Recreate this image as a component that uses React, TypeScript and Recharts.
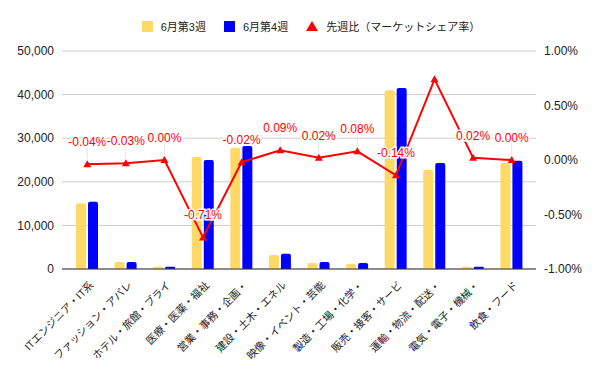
import React from 'react';
import { ComposedChart, Bar, Line, XAxis, YAxis, CartesianGrid } from 'recharts';

const categories = [
  'ITエンジニア・IT系',
  'ファッション・アパレ',
  'ホテル・旅館・ブライ',
  '医療・医薬・福祉',
  '営業・事務・企画・',
  '建設・土木・エネル',
  '映像・イベント・芸能',
  '製造・工場・化学・',
  '販売・接客・サービ',
  '運輸・物流・配送・',
  '電気・電子・機械・',
  '飲食・フード',
];

const week3 = [15100, 1600, 500, 25700, 27800, 3200, 1400, 1200, 41000, 22700, 500, 24300];
const week4 = [15400, 1600, 500, 25000, 28200, 3500, 1600, 1400, 41500, 24300, 500, 24800];
const shareDiff = [-0.04, -0.03, 0.0, -0.71, -0.02, 0.09, 0.02, 0.08, -0.14, 0.74, 0.02, 0.0];
// the reference leaves this point without a label
const hiddenLabels = [9];

const leftTicks = [0, 10000, 20000, 30000, 40000, 50000];
const rightTicks = [-1, -0.5, 0, 0.5, 1];

const data = categories.map((name, i) => ({
  name,
  week3: week3[i],
  week4: week4[i],
  diff: shareDiff[i],
}));

const YELLOW = '#FFD966';
const BLUE = '#0000FF';
const RED = '#FF0000';
const FONT = 'Arial, "Liberation Sans", "Noto Sans CJK JP", sans-serif';

const XTick = (props: any) => {
  const { x, y, payload } = props;
  return (
    <g transform={`translate(${x + 4},${y + 6})`}>
      <text transform="rotate(-45)" textAnchor="end" fontSize={10.5} fill="#222" fontFamily={FONT} dy={4}>
        {payload.value}
      </text>
    </g>
  );
};

const Triangle = (props: any) => {
  const { cx, cy } = props;
  if (cx == null || cy == null) return null;
  return <path d={`M${cx},${cy - 4} L${cx + 4},${cy + 3} L${cx - 4},${cy + 3} Z`} fill={RED} />;
};

const DiffLabel = (props: any) => {
  const { x, y, value, index } = props;
  if (hiddenLabels.includes(index)) return null;
  return (
    <g>
      <line x1={x} x2={x} y1={y - 5} y2={y - 17} stroke="#e6e6e6" strokeWidth={1} />
      <text
        x={x}
        y={y - 18}
        textAnchor="middle"
        fontSize={12}
        fill={RED}
        fontFamily={FONT}
        stroke="#fff"
        strokeWidth={3}
        paintOrder="stroke"
      >
        {`${Number(value).toFixed(2)}%`}
      </text>
    </g>
  );
};

const LegendBox = () => (
  <div
    style={{
      position: 'absolute',
      top: 18,
      left: 0,
      width: 600,
      display: 'flex',
      justifyContent: 'center',
      gap: 18,
      fontFamily: FONT,
      fontSize: 11,
      color: '#222',
    }}
  >
    <span style={{ display: 'flex', alignItems: 'center', gap: 8, marginLeft: 22 }}>
      <span style={{ width: 11, height: 11, background: YELLOW, display: 'inline-block' }} />
      6月第3週
    </span>
    <span style={{ display: 'flex', alignItems: 'center', gap: 8 }}>
      <span style={{ width: 11, height: 11, background: BLUE, display: 'inline-block' }} />
      6月第4週
    </span>
    <span style={{ display: 'flex', alignItems: 'center', gap: 8 }}>
      <svg width={12} height={11}>
        <path d="M6,0 L12,10 L0,10 Z" fill={RED} />
      </svg>
      先週比（マーケットシェア率）
    </span>
  </div>
);

const App: React.FC = () => {
  return (
    <div style={{ position: 'absolute', top: 0, left: 0, width: 600, height: 371, background: '#fff' }}>
      <ComposedChart
        width={600}
        height={371}
        data={data}
        margin={{ top: 51, right: 0, left: 0, bottom: 0 }}
        barSize={10}
        barGap={2}
      >
        <CartesianGrid vertical={false} stroke="#cccccc" yAxisId="left" />
        <XAxis
          dataKey="name"
          interval={0}
          height={102}
          tick={<XTick />}
          tickLine={false}
          axisLine={{ stroke: '#333' }}
          padding={{ left: 6, right: 5 }}
        />
        <YAxis
          yAxisId="left"
          width={62}
          domain={[0, 50000]}
          ticks={leftTicks}
          tickFormatter={(v: number) => v.toLocaleString('en-US')}
          axisLine={false}
          tickLine={false}
          tick={{ fontSize: 12, fill: '#222', fontFamily: FONT }}
        />
        <YAxis
          yAxisId="right"
          orientation="right"
          width={64}
          domain={[-1, 1]}
          ticks={rightTicks}
          tickFormatter={(v: number) => `${v.toFixed(2)}%`}
          axisLine={false}
          tickLine={false}
          tick={{ fontSize: 12, fill: '#222', fontFamily: FONT }}
        />
        <Bar yAxisId="left" dataKey="week3" fill={YELLOW} radius={[2, 2, 0, 0]} isAnimationActive={false} />
        <Bar yAxisId="left" dataKey="week4" fill={BLUE} radius={[2, 2, 0, 0]} isAnimationActive={false} />
        <Line
          yAxisId="right"
          dataKey="diff"
          stroke={RED}
          strokeWidth={2}
          dot={<Triangle />}
          activeDot={false}
          label={<DiffLabel />}
          isAnimationActive={false}
        />
      </ComposedChart>
      <LegendBox />
    </div>
  );
};

export default App;
